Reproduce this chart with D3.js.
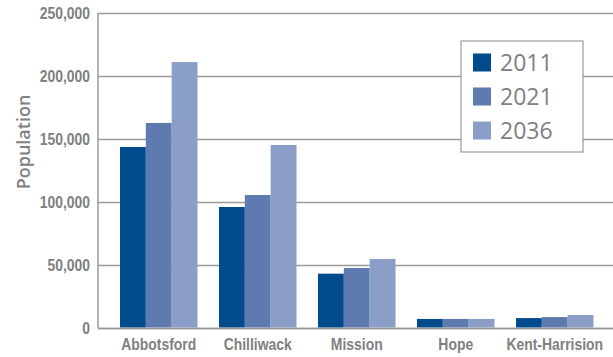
<!DOCTYPE html>
<html>
<head>
<meta charset="utf-8">
<script src="https://cdn.jsdelivr.net/npm/d3@7"></script>
<style>
  html, body { margin: 0; padding: 0; background: #fff; }
  svg { display: block; }
</style>
</head>
<body>
<svg id="chart" width="613" height="357"></svg>
<script>
// Population by municipality, Fraser Valley
const categories = ["Abbotsford", "Chilliwack", "Mission", "Hope", "Kent-Harrision"];
const years = ["2011", "2021", "2036"];
const pop2011 = [143500, 95800, 42800, 6800, 7500];
const pop2021 = [162600, 105300, 47300, 6800, 8300];
const pop2036 = [211000, 145100, 54500, 6800, 9900];
const yTicks = [0, 50000, 100000, 150000, 200000, 250000];
const colors = ["#014a8c", "#5f7aaf", "#8a9ec7"];

const seriesValues = [pop2011, pop2021, pop2036];
const rows = categories.map((c, i) => ({
  name: c,
  values: years.map((y, j) => ({ year: y, value: seriesValues[j][i] }))
}));

const svg = d3.select("#chart");
const plotLeft = 98, plotRight = 613, plotTop = 13, plotBottom = 327.5;
const condensed = 0.82; // horizontal squeeze for the condensed bold labels
const labelFont = "'Liberation Sans', Arial, sans-serif";

const y = d3.scaleLinear().domain([0, 250000]).range([plotBottom, plotTop]);
const x0 = d3.scaleBand().domain(categories).range([plotLeft, plotRight])
  .paddingInner(0.217).paddingOuter(0.2095).align(0.53);
const x1 = d3.scaleBand().domain(years).range([0, x0.bandwidth()]);
const color = d3.scaleOrdinal().domain(years).range(colors);

// Gridlines
svg.append("g").selectAll("line").data(yTicks).join("line")
  .attr("x1", plotLeft).attr("x2", plotRight)
  .attr("y1", d => Math.round(y(d)) + 0.5).attr("y2", d => Math.round(y(d)) + 0.5)
  .attr("stroke", "#9a9a9a").attr("stroke-width", 1.5);

// Y axis labels
const fmt = d3.format(",");
svg.append("g").selectAll("text").data(yTicks).join("text")
  .attr("transform", d => `translate(90,${y(d)}) scale(${condensed},1)`)
  .attr("dy", "0.36em")
  .attr("text-anchor", "end")
  .attr("font-family", labelFont)
  .attr("font-weight", "bold").attr("font-size", 17)
  .attr("fill", "#808080")
  .text(d => fmt(d));

// Bars
const groups = svg.append("g").selectAll("g").data(rows).join("g")
  .attr("transform", d => `translate(${x0(d.name)},0)`);
groups.selectAll("rect").data(d => d.values).join("rect")
  .attr("x", d => x1(d.year))
  .attr("width", x1.bandwidth())
  .attr("y", d => y(d.value))
  .attr("height", d => plotBottom - y(d.value))
  .attr("fill", d => color(d.year));

// Axis lines
svg.append("line").attr("x1", plotLeft).attr("x2", plotLeft).attr("y1", plotTop).attr("y2", plotBottom + 1)
  .attr("stroke", "#9a9a9a").attr("stroke-width", 1.5);
svg.append("line").attr("x1", plotLeft).attr("x2", plotRight)
  .attr("y1", Math.round(plotBottom) + 0.5).attr("y2", Math.round(plotBottom) + 0.5)
  .attr("stroke", "#9a9a9a").attr("stroke-width", 1.5);

// Category labels
svg.append("g").selectAll("text").data(categories).join("text")
  .attr("transform", d => `translate(${x0(d) + x0.bandwidth() / 2},350) scale(${condensed},1)`)
  .attr("text-anchor", "middle")
  .attr("font-family", labelFont)
  .attr("font-weight", "bold").attr("font-size", 17)
  .attr("fill", "#808080")
  .text(d => d);

// Y axis title
svg.append("text")
  .attr("transform", "translate(30,142) rotate(-90)")
  .attr("text-anchor", "middle")
  .attr("font-family", "'Open Sans', sans-serif")
  .attr("font-weight", 600).attr("font-size", 18)
  .attr("fill", "#808080")
  .text("Population");

// Legend
const legend = svg.append("g").attr("transform", "translate(461,41)");
legend.append("rect").attr("x", 0).attr("y", 0).attr("width", 122).attr("height", 111)
  .attr("fill", "#fff").attr("stroke", "#9a9a9a").attr("stroke-width", 1.2);
const items = legend.selectAll("g").data(years).join("g")
  .attr("transform", (d, i) => `translate(12,${21.5 + i * 34})`);
items.append("rect").attr("x", 0).attr("y", -9).attr("width", 18).attr("height", 18)
  .attr("fill", d => color(d));
items.append("text").attr("x", 27).attr("y", 0).attr("dy", "0.36em")
  .attr("font-family", "'Open Sans', sans-serif")
  .attr("font-size", 23).attr("fill", "#808080")
  .text(d => d);
</script>
</body>
</html>
